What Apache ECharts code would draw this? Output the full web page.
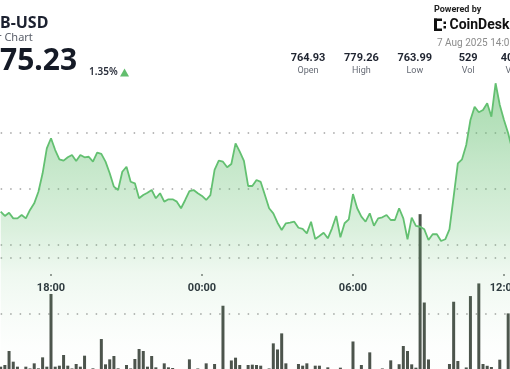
<!DOCTYPE html>
<html><head><meta charset="utf-8">
<script src="https://cdn.jsdelivr.net/npm/echarts@6/dist/echarts.min.js"></script>
<style>html,body{margin:0;padding:0;background:#fff;overflow:hidden}#c{width:510px;height:369px}</style>
</head><body><div id="c"></div>
<script>
// ---- data ----
const times = [
 '16:00','16:10','16:20','16:30','16:40','16:50',
 '17:00','17:10','17:20','17:30','17:40','17:50',
 '18:00','18:10','18:20','18:30','18:40','18:50',
 '19:00','19:10','19:20','19:30','19:40','19:50',
 '20:00','20:10','20:20','20:30','20:40','20:50',
 '21:00','21:10','21:20','21:30','21:40','21:50',
 '22:00','22:10','22:20','22:30','22:40','22:50',
 '23:00','23:10','23:20','23:30','23:40','23:50',
 '00:00','00:10','00:20','00:30','00:40','00:50',
 '01:00','01:10','01:20','01:30','01:40','01:50',
 '02:00','02:10','02:20','02:30','02:40','02:50',
 '03:00','03:10','03:20','03:30','03:40','03:50',
 '04:00','04:10','04:20','04:30','04:40','04:50',
 '05:00','05:10','05:20','05:30','05:40','05:50',
 '06:00','06:10','06:20','06:30','06:40','06:50',
 '07:00','07:10','07:20','07:30','07:40','07:50',
 '08:00','08:10','08:20','08:30','08:40','08:50',
 '09:00','09:10','09:20','09:30','09:40','09:50',
 '10:00','10:10','10:20','10:30','10:40','10:50',
 '11:00','11:10','11:20','11:30','11:40','11:50',
 '12:00','12:10','12:20'
];
const prices = [
 767.97, 767.59, 767.88, 767.38, 767.38, 767.68, 767.38, 768.13, 768.72, 769.76,
 771.40, 773.63, 774.53, 773.48, 772.65, 772.53, 772.83, 773.04, 772.50, 773.04,
 772.83, 772.88, 772.44, 773.24, 773.13, 772.44, 771.40, 770.21, 769.91, 771.54,
 771.99, 770.65, 770.51, 769.17, 769.46, 769.67, 769.91, 769.17, 769.62, 768.87,
 769.08, 769.08, 768.87, 768.28, 769.02, 769.82, 769.91, 769.62, 769.38, 769.02,
 769.46, 771.70, 772.53, 772.44, 771.94, 772.23, 774.08, 773.33, 772.52, 770.27,
 770.27, 770.80, 770.63, 769.46, 768.28, 767.83, 766.99, 766.34, 766.94, 766.99,
 767.08, 766.54, 766.43, 766.04, 767.08, 765.54, 765.80, 766.10, 765.60, 766.49,
 767.59, 765.69, 766.94, 767.29, 769.55, 768.28, 767.53, 767.08, 767.83, 766.72,
 767.38, 767.47, 767.68, 767.23, 767.23, 768.28, 767.38, 765.51, 767.44, 766.70,
 766.63, 766.40, 765.45, 765.96, 765.96, 765.36, 765.51, 766.40, 769.31, 772.29,
 772.65, 773.93, 776.16, 777.35, 776.85, 777.05, 777.65, 776.46, 779.44, 777.50,
 776.16, 774.97, 773.48
];
const volumes = [
 21, 36, 162, 66, 21, 0, 21, 5, 51, 6,
 105, 21, 676, 21, 30, 126, 30, 5, 45, 21,
 120, 0, 6, 0, 270, 42, 87, 117, 6, 0,
 36, 5, 90, 180, 162, 21, 117, 15, 0, 51,
 15, 9, 0, 0, 0, 87, 0, 5, 0, 51,
 0, 45, 0, 570, 0, 77, 102, 36, 0, 36,
 39, 36, 30, 0, 5, 231, 176, 321, 51, 0,
 0, 45, 30, 51, 0, 30, 30, 0, 15, 0,
 0, 12, 0, 0, 248, 0, 36, 0, 150, 0,
 0, 5, 0, 78, 0, 43, 207, 162, 42, 12,
 1395, 599, 86, 0, 0, 0, 0, 45, 606, 72,
 0, 14, 657, 0, 771, 45, 29, 18, 0, 84,
 0, 501, 0
];
const timeLabels = ['18:00', '00:00', '06:00', '12:00'];
const priceTicks = [750, 755, 760, 765, 770, 775, 780];
const priceGridValues = [765, 770, 775];
const volumeTicks = [0, 500, 1000, 1500, 2000];
const volumeGridValues = [500, 1000];
const pairText = 'B-USD';
const subText = 'r Chart';
const lastPrice = '75.23';
const changeText = '1.35%';
const statValues = ['764.93', '779.26', '763.99', '529', '407.33K'];
const statLabels = ['Open', 'High', 'Low', 'Vol', 'Vol USD'];
const poweredText = 'Powered by';
const brandText = 'CoinDesk';
const dateText = '7 Aug 2025 14:09';

// ---- chart ----
const GRID_COLOR = '#a3a3a3';
const CLEAR = 'rgba(0,0,0,0)';
const showTime = (i, v) => timeLabels.indexOf(times[i]) >= 0;
const green = 'rgb(98,190,110)';
const ga = a => 'rgba(98,190,110,' + a + ')';

const chart = echarts.init(document.getElementById('c'), null, {renderer: 'canvas', width: 510, height: 369});

const statX0 = 308, statDX = 53.4;
const graphics = [
  {type: 'text', x: 0, y: 23, style: {text: pairText, font: 'bold 16px "Noto Sans"', fill: '#1c2130', textAlign: 'left', textVerticalAlign: 'middle'}},
  {type: 'text', x: -3, y: 37.5, style: {text: subText, font: '11px "Noto Sans"', fill: '#5b606b', textAlign: 'left', textVerticalAlign: 'middle'}},
  {type: 'text', x: 0, y: 61.5, style: {text: lastPrice, font: 'bold 30px "Noto Sans"', fill: '#151a26', textAlign: 'left', textVerticalAlign: 'middle'}},
  {type: 'text', x: 89, y: 72.5, style: {text: changeText, font: '600 10px "Noto Sans"', fill: '#2a2f3b', textAlign: 'left', textVerticalAlign: 'middle'}},
  {type: 'polygon', shape: {points: [[120, 76.5], [129, 76.5], [124.5, 68.5]]}, style: {fill: green}},
  {type: 'text', x: 434, y: 10, style: {text: poweredText, font: 'bold 9px Roboto', fill: '#1f1f1f', textAlign: 'left', textVerticalAlign: 'middle'}},
  {type: 'rect', shape: {x: 434, y: 18.5, width: 3, height: 12.5}, style: {fill: '#111'}},
  {type: 'rect', shape: {x: 434, y: 18.5, width: 8, height: 2.5}, style: {fill: '#111'}},
  {type: 'rect', shape: {x: 434, y: 28.5, width: 8, height: 2.5}, style: {fill: '#111'}},
  {type: 'rect', shape: {x: 443.5, y: 21.5, width: 2.5, height: 2.5}, style: {fill: '#111'}},
  {type: 'rect', shape: {x: 443.5, y: 26, width: 2.5, height: 2.5}, style: {fill: '#111'}},
  {type: 'text', x: 449.5, y: 25.5, style: {text: brandText, font: 'bold 14px Roboto', fill: '#111', textAlign: 'left', textVerticalAlign: 'middle'}},
  {type: 'text', x: 437, y: 43.5, style: {text: dateText, font: '10px Roboto', fill: '#8c8c8c', textAlign: 'left', textVerticalAlign: 'middle'}}
];
statValues.forEach((v, k) => {
  graphics.push({type: 'text', x: statX0 + k * statDX, y: 58, style: {text: v, font: 'bold 11px Roboto', fill: '#1f2430', textAlign: 'center', textVerticalAlign: 'middle'}});
  graphics.push({type: 'text', x: statX0 + k * statDX, y: 70.5, style: {text: statLabels[k], font: '9px Roboto', fill: '#666b75', textAlign: 'center', textVerticalAlign: 'middle'}});
});

chart.setOption({
  animation: false,
  backgroundColor: '#ffffff',
  grid: [
    {left: 0.67, right: -2.37, top: 77, bottom: -44, outerBoundsMode: 'none', containLabel: false},
    {left: 0.67, right: -2.37, top: 147, bottom: 0, outerBoundsMode: 'none', containLabel: false}
  ],
  xAxis: [
    {gridIndex: 0, type: 'category', data: times, boundaryGap: false, offset: -139,
     axisLine: {show: false},
     axisTick: {show: true, interval: showTime, length: 2, lineStyle: {color: '#9a9a9a', width: 2}},
     axisLabel: {show: true, interval: showTime, margin: 9, color: '#2a2f3b', fontWeight: 'bold', fontSize: 11, fontFamily: 'Roboto'},
     splitLine: {show: false}},
    {gridIndex: 1, type: 'category', data: times, boundaryGap: false, show: false}
  ],
  yAxis: [
    {gridIndex: 0, type: 'value', min: priceTicks[0], max: priceTicks[priceTicks.length - 1], interval: 5,
     axisLine: {show: false}, axisTick: {show: false}, axisLabel: {show: false},
     splitLine: {show: true, lineStyle: {type: [1.5, 8], width: 1.5,
       color: priceTicks.map(v => priceGridValues.indexOf(v) >= 0 ? GRID_COLOR : CLEAR)}}},
    {gridIndex: 1, type: 'value', min: volumeTicks[0], max: volumeTicks[volumeTicks.length - 1], interval: 500,
     axisLine: {show: false}, axisTick: {show: false}, axisLabel: {show: false},
     splitLine: {show: true, lineStyle: {type: [1.5, 8], width: 1.5,
       color: volumeTicks.map(v => volumeGridValues.indexOf(v) >= 0 ? GRID_COLOR : CLEAR)}}}
  ],
  series: [
    {type: 'bar', xAxisIndex: 1, yAxisIndex: 1, data: volumes, barWidth: 3,
     itemStyle: {color: '#4c534c'}, silent: true},
    {type: 'line', xAxisIndex: 0, yAxisIndex: 0, data: prices, symbol: 'none', silent: true,
     lineStyle: {color: '#63c071', width: 1.8},
     areaStyle: {origin: 'start', color: new echarts.graphic.LinearGradient(0, 80, 0, 413, [
       {offset: 0, color: ga(0.8)},
       {offset: 0.15, color: ga(0.65)},
       {offset: 0.25, color: ga(0.53)},
       {offset: 0.45, color: ga(0.33)},
       {offset: 0.5, color: ga(0.26)},
       {offset: 0.58, color: ga(0.15)},
       {offset: 0.7, color: ga(0.07)},
       {offset: 0.8, color: ga(0.02)},
       {offset: 1, color: ga(0)}
     ], true)}}
  ],
  graphic: {elements: graphics}
});
</script>
</body></html>
